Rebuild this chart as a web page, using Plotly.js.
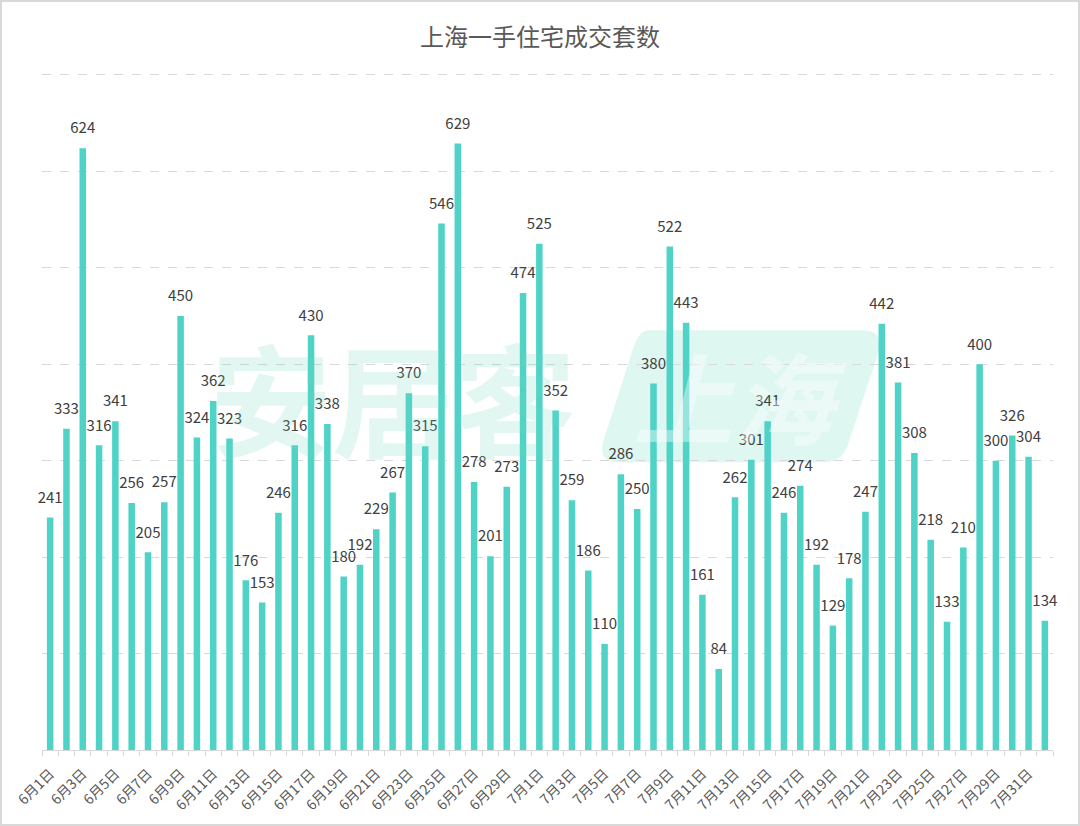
<!DOCTYPE html>
<html>
<head>
<meta charset="utf-8">
<script src="https://cdn.plot.ly/plotly-3.0.1.min.js"></script>
<style>
  html, body { margin: 0; padding: 0; background: #fff; }
  #chart { width: 1080px; height: 826px; }
  #frame { position: absolute; left: 0; top: 0; width: 1076px; height: 822px; border: 2px solid #d9d9d9; pointer-events: none; }
</style>
</head>
<body>
<div id="chart"></div>
<div id="frame"></div>
<script>
// Categories: daily dates, 6月1日 .. 8月1日
const juneDays = Array.from({length: 30}, (_, i) => '6月' + (i + 1) + '日');
const julyDays = Array.from({length: 31}, (_, i) => '7月' + (i + 1) + '日');
const categories = juneDays.concat(julyDays).concat(['8月1日']);

// 上海一手住宅成交套数 (units)
const units = [
  241, 333, 624, 316, 341, 256, 205, 257, 450, 324,
  362, 323, 176, 153, 246, 316, 430, 338, 180, 192,
  229, 267, 370, 315, 546, 629, 278, 201, 273, 474,
  525, 352, 259, 186, 110, 286, 250, 380, 522, 443,
  161, 84, 262, 301, 341, 246, 274, 192, 129, 178,
  247, 442, 381, 308, 218, 133, 210, 400, 300, 326,
  304, 134
];

// Tick labels shown on every other day
const tickLabels = categories.map((c, i) => (i % 2 === 0 ? c : ''));

const titleText = '上海一手住宅成交套数';
const barColor = '#4fd3c7';
const fontFamily = '"Noto Sans CJK SC", "Noto Sans", sans-serif';

const bars = {
  type: 'bar',
  x: categories,
  y: units,
  marker: { color: barColor },
  hoverinfo: 'x+y',
  showlegend: false
};

const labels = {
  type: 'scatter',
  mode: 'markers+text',
  x: categories,
  y: units,
  text: units.map(String),
  textposition: 'top center',
  textfont: { family: fontFamily, size: 15, color: '#404040' },
  marker: { size: 16, color: 'rgba(0,0,0,0)' },
  hoverinfo: 'skip',
  cliponaxis: false,
  showlegend: false
};

const layout = {
  width: 1080,
  height: 826,
  margin: { l: 42, r: 27, t: 73, b: 76 },
  paper_bgcolor: '#ffffff',
  plot_bgcolor: '#ffffff',
  font: { family: fontFamily, color: '#595959' },
  title: {
    text: titleText,
    x: 0.5, xref: 'container', xanchor: 'center',
    y: 0.954, yref: 'container', yanchor: 'middle',
    font: { family: fontFamily, size: 24, color: '#595959' }
  },
  bargap: 0.6,
  xaxis: {
    type: 'category',
    range: [-0.5, categories.length - 0.5],
    autorange: false,
    tickmode: 'array',
    tickvals: categories,
    ticktext: tickLabels,
    tickangle: -45,
    tickson: 'boundaries',
    ticks: 'outside',
    ticklen: 5,
    tickcolor: '#d9d9d9',
    ticklabelstandoff: 9,
    showline: true,
    linecolor: '#d9d9d9',
    linewidth: 1,
    showgrid: false,
    tickfont: { family: fontFamily, size: 14, color: '#595959' },
    fixedrange: true
  },
  yaxis: {
    range: [0, 702],
    autorange: false,
    dtick: 100,
    showticklabels: false,
    showgrid: true,
    gridcolor: '#d9d9d9',
    griddash: 'dash',
    gridwidth: 1,
    zeroline: false,
    ticks: '',
    fixedrange: true
  },
  shapes: [
    {
      type: 'path', layer: 'below', xref: 'paper', yref: 'paper',
      path: 'M 0.600 0.620 L 0.812 0.620 Q 0.832 0.620 0.828 0.590 L 0.798 0.455 Q 0.793 0.425 0.773 0.425 L 0.570 0.425 Q 0.550 0.425 0.555 0.455 L 0.584 0.590 Q 0.590 0.620 0.600 0.620 Z',
      fillcolor: 'rgba(200,242,232,0.6)', line: { width: 0 }
    }
  ],
  annotations: [
    {
      text: '<b>安居客</b>', xref: 'paper', yref: 'paper', x: 0.347, y: 0.525,
      xanchor: 'center', yanchor: 'middle', showarrow: false,
      font: { family: fontFamily, size: 122, color: 'rgba(110,215,190,0.2)' }
    },
    {
      text: '<b><i>上海</i></b>', xref: 'paper', yref: 'paper', x: 0.69, y: 0.525,
      xanchor: 'center', yanchor: 'middle', showarrow: false,
      font: { family: fontFamily, size: 100, color: 'rgba(255,255,255,0.4)' }
    }
  ]
};

Plotly.newPlot('chart', [bars, labels], layout, { displayModeBar: false, staticPlot: true });
</script>
</body>
</html>
